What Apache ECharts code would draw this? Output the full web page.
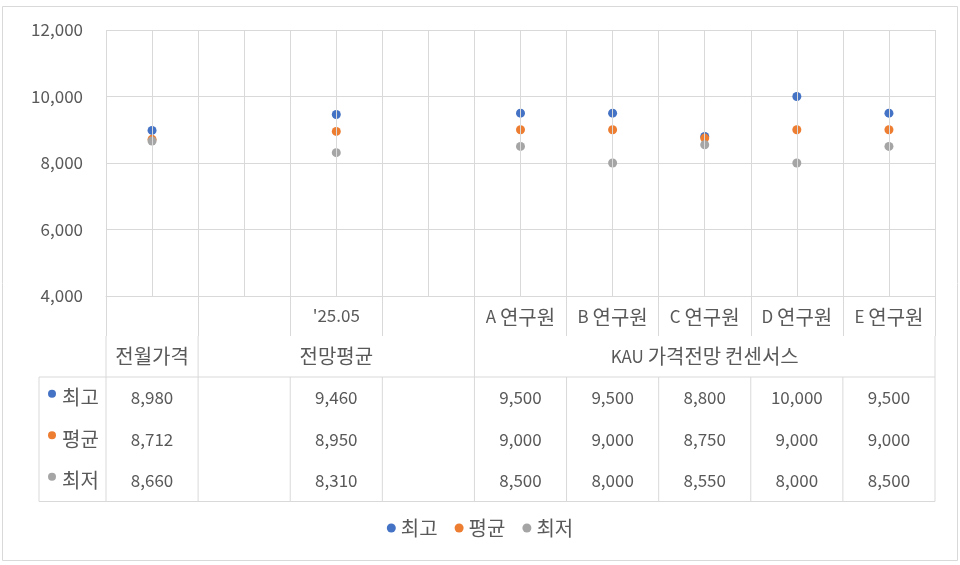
<!DOCTYPE html>
<html>
<head>
<meta charset="utf-8">
<script src="https://cdn.jsdelivr.net/npm/echarts@6/dist/echarts.min.js"></script>
<style>html,body{margin:0;padding:0;background:#fff}#chart{width:960px;height:565px}</style>
</head>
<body>
<div id="chart"></div>
<script>
var chart = echarts.init(document.getElementById('chart'));
var option;

// level-1 category labels (one per column)
const categories = ['', '', "'25.05", '', 'A 연구원', 'B 연구원', 'C 연구원', 'D 연구원', 'E 연구원'];
// level-2 group labels: name, first column, last column
const groupNames = ['전월가격', '전망평균', 'KAU 가격전망 컨센서스'];
const groupFrom = [0, 1, 4];
const groupTo = [0, 3, 8];

const seriesNames = ['최고', '평균', '최저'];
const highValues = [8980, null, 9460, null, 9500, 9500, 8800, 10000, 9500];
const avgValues = [8712, null, 8950, null, 9000, 9000, 8750, 9000, 9000];
const lowValues = [8660, null, 8310, null, 8500, 8000, 8550, 8000, 8500];
const yTicks = [4000, 6000, 8000, 10000, 12000];

const colors = ['#4472C4', '#ED7D31', '#A5A5A5'];
const allValues = [highValues, avgValues, lowValues];
const gridColor = '#D9D9D9';
const textColor = '#595959';
const font = 'Noto Sans CJK KR';
const latinSize = 17;
const hangulSize = 20;
const fmt = v => (v == null ? '' : v.toLocaleString('en-US'));
// Hangul is set a little larger than Latin, as in the original
const mixed = s => s.replace(/([가-힣]+)/g, '{k|$1}');
const rich = { k: { fontSize: hangulSize, fontFamily: font, color: textColor } };

option = {
  animation: false,
  textStyle: { fontFamily: font, color: textColor },
  color: colors,
  grid: { left: 106, right: 25, top: 30, bottom: 269 },
  xAxis: {
    type: 'category',
    data: categories,
    boundaryGap: true,
    axisLine: { show: true, lineStyle: { color: gridColor, width: 1 } },
    axisTick: { show: true, length: 40, interval: 0, lineStyle: { color: gridColor } },
    axisLabel: { interval: 0, margin: 11, fontSize: latinSize, color: textColor, fontFamily: font, formatter: mixed, rich: rich },
    splitLine: { show: true, interval: 0, lineStyle: { color: gridColor } }
  },
  yAxis: {
    type: 'value',
    min: yTicks[0],
    max: yTicks[yTicks.length - 1],
    interval: 2000,
    axisLine: { show: false },
    axisTick: { show: false },
    axisLabel: { margin: 23, fontSize: latinSize, color: textColor, fontFamily: font, formatter: fmt },
    splitLine: { lineStyle: { color: gridColor } }
  },
  legend: {
    data: seriesNames,
    bottom: 22,
    itemGap: 17,
    icon: 'circle',
    itemWidth: 9,
    itemHeight: 9,
    textStyle: { fontSize: hangulSize, color: textColor, fontFamily: font }
  },
  series: [
    {
      // vertical gridlines through category centres
      type: 'line',
      data: [],
      z: 1,
      silent: true,
      markLine: {
        silent: true,
        symbol: 'none',
        label: { show: false },
        lineStyle: { color: gridColor, type: 'solid', width: 1 },
        data: categories.map((c, i) => ({ xAxis: i }))
      }
    }
  ].concat(seriesNames.map((name, k) => ({
    name: name,
    type: 'scatter',
    z: 3,
    symbolSize: 9,
    itemStyle: { color: colors[k], opacity: 1 },
    data: allValues[k]
  })))
};

chart.setOption(option);

// data table under the axis
const xs = categories.map((c, i) => chart.convertToPixel({ xAxisIndex: 0 }, i));
const half = (xs[1] - xs[0]) / 2;
const bound = i => xs[0] - half + i * 2 * half;
const axisY = chart.convertToPixel({ yAxisIndex: 0 }, yTicks[0]);
const row1Bottom = axisY + 40;
const tableTop = axisY + 81;
const rowH = 41.5;
const tableBottom = tableTop + rowH * 3;
const tableLeft = 39;
const line = (x1, y1, x2, y2) => ({
  type: 'line', silent: true,
  shape: { x1: x1, y1: y1, x2: x2, y2: y2 },
  style: { stroke: gridColor, lineWidth: 1 }
});
const txt = (x, y, s, align) => ({
  type: 'text', silent: true, x: x, y: y,
  style: { text: mixed(s), rich: rich, font: latinSize + 'px "' + font + '"', fill: textColor, align: align || 'center', verticalAlign: 'middle' }
});

const graphics = [];
// outer border
graphics.push({ type: 'rect', silent: true, shape: { x: 2.5, y: 6.5, width: 955, height: 554 }, style: { fill: null, stroke: gridColor, lineWidth: 1 } });
// group separators in level-2 row
groupFrom.forEach(f => graphics.push(line(bound(f), row1Bottom, bound(f), tableTop)));
graphics.push(line(bound(categories.length), row1Bottom, bound(categories.length), tableTop));
// group labels
groupNames.forEach((g, j) => graphics.push(txt((bound(groupFrom[j]) + bound(groupTo[j] + 1)) / 2, (row1Bottom + tableTop) / 2, g)));
// table grid
graphics.push(line(tableLeft, tableTop, bound(categories.length), tableTop));
graphics.push(line(tableLeft, tableBottom, bound(categories.length), tableBottom));
graphics.push(line(tableLeft, tableTop, tableLeft, tableBottom));
for (let i = 0; i <= categories.length; i++) graphics.push(line(bound(i), tableTop, bound(i), tableBottom));
// row headers and values
seriesNames.forEach((name, k) => {
  const cy = tableTop + rowH * (k + 0.5);
  graphics.push({ type: 'circle', silent: true, shape: { cx: 52, cy: cy - 4, r: 4 }, style: { fill: colors[k] } });
  graphics.push(txt(62, cy, name, 'left'));
  allValues[k].forEach((v, i) => { if (v != null) graphics.push(txt(xs[i], cy, fmt(v))); });
});

chart.setOption({ graphic: graphics });
</script>
</body>
</html>
